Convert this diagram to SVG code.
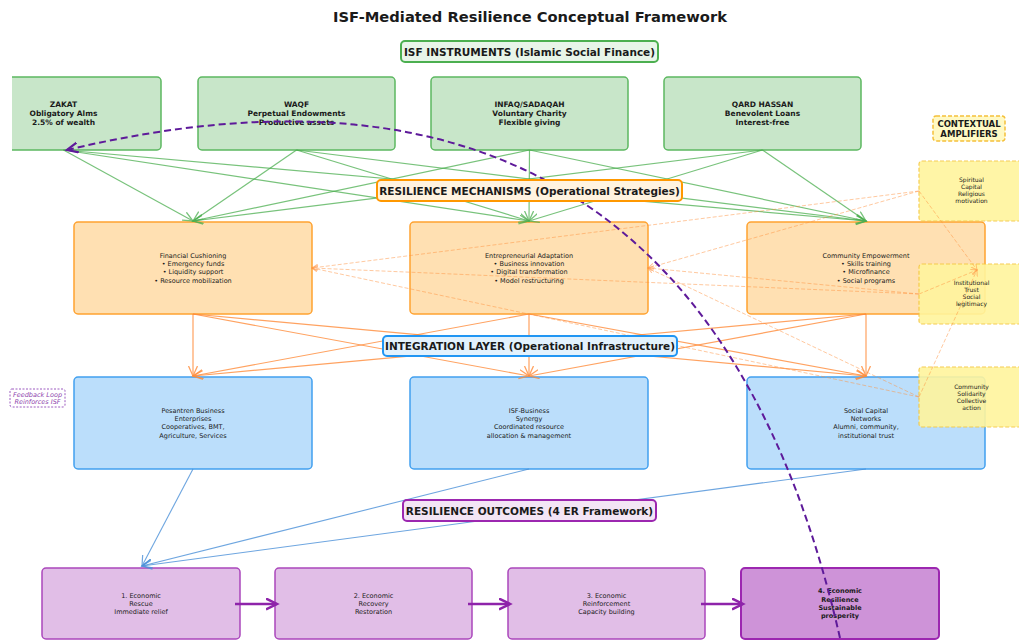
<svg xmlns="http://www.w3.org/2000/svg" width="1019" height="641" viewBox="0 0 1019 641">
<style>
text{font-family:"DejaVu Sans","Liberation Sans",sans-serif;fill:#1a1a1a;text-anchor:middle}
.title{font-size:14.7px;font-weight:bold}
.hdr{font-size:10.5px;font-weight:bold}
.inst{font-size:7.5px;font-weight:bold}
.body{font-size:6.5px}
.amp{font-size:6px}
.ibox{fill:#c8e6c9;stroke:#5cb860;stroke-width:1.5}
.mbox{fill:#ffe0b2;stroke:#ffa230;stroke-width:1.5}
.gbox{fill:#bbdefb;stroke:#42a0ef;stroke-width:1.5}
.obox{fill:#e1bee7;stroke:#ab47bc;stroke-width:1.5}
.obox4{fill:#ce93d8;stroke:#9c27b0;stroke-width:2}
.abox{fill:#fff59d;stroke:#f5c842;stroke-width:1.2;stroke-dasharray:4 2;opacity:.9}
.g{stroke:#4caf50;stroke-width:1.2;opacity:.75;fill:none;marker-end:url(#mg)}
.o{stroke:#ff8c3a;stroke-width:1.2;opacity:.8;fill:none;marker-end:url(#mo)}
.b{stroke:#4a90d9;stroke-width:1.1;opacity:.8;fill:none;marker-end:url(#mb)}
.p{stroke:#8e24aa;stroke-width:2.5;fill:none;marker-end:url(#mp)}
.a{stroke:#ff9340;stroke-width:.9;opacity:.55;stroke-dasharray:4 2;fill:none;marker-end:url(#ma)}
.fb{stroke:#5e1a9a;stroke-width:2;stroke-dasharray:7 4;fill:none;marker-end:url(#mf)}
</style>
<defs>
<marker id="mg" markerUnits="userSpaceOnUse" markerWidth="12" markerHeight="12" refX="10" refY="5" orient="auto"><path d="M0,0.5 L10,5 L0,9.5" fill="none" stroke="#4caf50" stroke-width="1.3"/></marker>
<marker id="mo" markerUnits="userSpaceOnUse" markerWidth="12" markerHeight="12" refX="10" refY="5" orient="auto"><path d="M0,0.5 L10,5 L0,9.5" fill="none" stroke="#ff8c3a" stroke-width="1.3"/></marker>
<marker id="mb" markerUnits="userSpaceOnUse" markerWidth="12" markerHeight="12" refX="10" refY="5" orient="auto"><path d="M0,0.5 L10,5 L0,9.5" fill="none" stroke="#4a90d9" stroke-width="1.2"/></marker>
<marker id="mp" markerUnits="userSpaceOnUse" markerWidth="14" markerHeight="14" refX="11" refY="6" orient="auto"><path d="M0,0.5 L11,6 L0,11.5" fill="none" stroke="#8e24aa" stroke-width="2.5"/></marker>
<marker id="ma" markerUnits="userSpaceOnUse" markerWidth="8" markerHeight="8" refX="6" refY="3" orient="auto"><path d="M0,0 L6,3 L0,6" fill="none" stroke="#ff9340" stroke-width="1"/></marker>
<marker id="mf" markerUnits="userSpaceOnUse" markerWidth="14" markerHeight="14" refX="11" refY="6" orient="auto"><path d="M0,1 L11,6 L0,11" fill="none" stroke="#5e1a9a" stroke-width="2.2"/></marker>
<clipPath id="clipL"><rect x="12" y="0" width="1007" height="641"/></clipPath>
</defs>
<rect width="1019" height="641" fill="#ffffff"/>
<text class="title" x="530" y="22">ISF-Mediated Resilience Conceptual Framework</text>

<g id="zakat"><rect class="ibox" x="-35" y="77" width="196" height="73" rx="4" clip-path="url(#clipL)"/>
<text class="inst" x="63.5" y="106.6">ZAKAT</text><text class="inst" x="63.5" y="115.6">Obligatory Alms</text><text class="inst" x="63.5" y="124.6">2.5% of wealth</text></g>
<g id="waqf"><rect class="ibox" x="198" y="77" width="197" height="73" rx="4"/>
<text class="inst" x="296.5" y="106.6">WAQF</text><text class="inst" x="296.5" y="115.6">Perpetual Endowments</text><text class="inst" x="296.5" y="124.6">Productive assets</text></g>
<g id="infaq"><rect class="ibox" x="431" y="77" width="197" height="73" rx="4"/>
<text class="inst" x="529.5" y="106.6">INFAQ/SADAQAH</text><text class="inst" x="529.5" y="115.6">Voluntary Charity</text><text class="inst" x="529.5" y="124.6">Flexible giving</text></g>
<g id="qard"><rect class="ibox" x="664" y="77" width="197" height="73" rx="4"/>
<text class="inst" x="762.5" y="106.6">QARD HASSAN</text><text class="inst" x="762.5" y="115.6">Benevolent Loans</text><text class="inst" x="762.5" y="124.6">Interest-free</text></g>

<g id="financial"><rect class="mbox" x="74" y="222" width="238" height="92" rx="4"/>
<text class="body" x="193" y="258">Financial Cushioning</text><text class="body" x="193" y="266.3">• Emergency funds</text><text class="body" x="193" y="274.4">• Liquidity support</text><text class="body" x="193" y="282.5">• Resource mobilization</text></g>
<g id="entrepreneurial"><rect class="mbox" x="410" y="222" width="238" height="92" rx="4"/>
<text class="body" x="529" y="258">Entrepreneurial Adaptation</text><text class="body" x="529" y="266.3">• Business innovation</text><text class="body" x="529" y="274.4">• Digital transformation</text><text class="body" x="529" y="282.5">• Model restructuring</text></g>
<g id="community"><rect class="mbox" x="747" y="222" width="238" height="92" rx="4"/>
<text class="body" x="866" y="258">Community Empowerment</text><text class="body" x="866" y="266.3">• Skills training</text><text class="body" x="866" y="274.4">• Microfinance</text><text class="body" x="866" y="282.5">• Social programs</text></g>

<g id="pesantren"><rect class="gbox" x="74" y="377" width="238" height="92" rx="4"/>
<text class="body" x="193" y="413">Pesantren Business</text><text class="body" x="193" y="421.3">Enterprises</text><text class="body" x="193" y="429.4">Cooperatives, BMT,</text><text class="body" x="193" y="437.5">Agriculture, Services</text></g>
<g id="synergy"><rect class="gbox" x="410" y="377" width="238" height="92" rx="4"/>
<text class="body" x="529" y="413">ISF-Business</text><text class="body" x="529" y="421.3">Synergy</text><text class="body" x="529" y="429.4">Coordinated resource</text><text class="body" x="529" y="437.5">allocation &amp; management</text></g>
<g id="social"><rect class="gbox" x="747" y="377" width="238" height="92" rx="4"/>
<text class="body" x="866" y="413">Social Capital</text><text class="body" x="866" y="421.3">Networks</text><text class="body" x="866" y="429.4">Alumni, community,</text><text class="body" x="866" y="437.5">institutional trust</text></g>

<g id="rescue"><rect class="obox" x="42" y="568" width="198" height="71" rx="4"/>
<text class="body" x="141" y="597.6">1. Economic</text><text class="body" x="141" y="606">Rescue</text><text class="body" x="141" y="614">Immediate relief</text></g>
<g id="recovery"><rect class="obox" x="275" y="568" width="197" height="71" rx="4"/>
<text class="body" x="373.5" y="597.6">2. Economic</text><text class="body" x="373.5" y="606">Recovery</text><text class="body" x="373.5" y="614">Restoration</text></g>
<g id="reinforcement"><rect class="obox" x="508" y="568" width="197" height="71" rx="4"/>
<text class="body" x="606.5" y="597.6">3. Economic</text><text class="body" x="606.5" y="606">Reinforcement</text><text class="body" x="606.5" y="614">Capacity building</text></g>
<g id="resilience"><rect class="obox4" x="741" y="568" width="198" height="71" rx="4"/>
<text class="body" font-weight="bold" x="840" y="593.3">4. Economic</text><text class="body" font-weight="bold" x="840" y="602">Resilience</text><text class="body" font-weight="bold" x="840" y="610">Sustainable</text><text class="body" font-weight="bold" x="840" y="618">prosperity</text></g>

<g id="spiritual"><rect class="abox" x="919" y="161" width="105" height="60" rx="3"/>
<text class="amp" x="971.5" y="182">Spiritual</text><text class="amp" x="971.5" y="189">Capital</text><text class="amp" x="971.5" y="196">Religious</text><text class="amp" x="971.5" y="203">motivation</text></g>
<g id="trust"><rect class="abox" x="919" y="264" width="105" height="60" rx="3"/>
<text class="amp" x="971.5" y="285">Institutional</text><text class="amp" x="971.5" y="292">Trust</text><text class="amp" x="971.5" y="299">Social</text><text class="amp" x="971.5" y="306">legitimacy</text></g>
<g id="solidarity"><rect class="abox" x="919" y="367" width="105" height="60" rx="3"/>
<text class="amp" x="971.5" y="389">Community</text><text class="amp" x="971.5" y="396">Solidarity</text><text class="amp" x="971.5" y="403">Collective</text><text class="amp" x="971.5" y="410">action</text></g>

<g id="connectors">
<path class="g" d="M63.5,150 L193,221"/><path class="g" d="M63.5,150 L529,221"/><path class="g" d="M63.5,150 L866,221"/>
<path class="g" d="M296.5,150 L193,221"/><path class="g" d="M296.5,150 L529,221"/><path class="g" d="M296.5,150 L866,221"/>
<path class="g" d="M529.5,150 L193,221"/><path class="g" d="M529.5,150 L529,221"/><path class="g" d="M529.5,150 L866,221"/>
<path class="g" d="M762.5,150 L193,221"/><path class="g" d="M762.5,150 L529,221"/><path class="g" d="M762.5,150 L866,221"/>
<path class="o" d="M193,314 L193,376"/><path class="o" d="M193,314 L529,376"/><path class="o" d="M193,314 L866,376"/>
<path class="o" d="M529,314 L193,376"/><path class="o" d="M529,314 L529,376"/><path class="o" d="M529,314 L866,376"/>
<path class="o" d="M866,314 L193,376"/><path class="o" d="M866,314 L529,376"/><path class="o" d="M866,314 L866,376"/>
<path class="b" d="M193,469 L142,566"/><path class="b" d="M529,469 L142,566"/><path class="b" d="M866,469 L142,566"/>
<path class="p" d="M235,604 L277,604"/><path class="p" d="M468,604 L510,604"/><path class="p" d="M701,604 L743,604"/>
<path class="a" d="M919,191 L312,268"/><path class="a" d="M919,191 L648,268"/><path class="a" d="M919,191 L977,270"/>
<path class="a" d="M919,294 L312,268"/><path class="a" d="M919,294 L648,268"/><path class="a" d="M919,294 L977,270"/>
<path class="a" d="M919,397 L312,268"/><path class="a" d="M919,397 L648,268"/><path class="a" d="M919,397 L977,270"/>
<path class="fb" d="M840,638 Q695,0 67,150"/>
</g>

<g id="hdr-instruments"><rect x="401" y="41" width="257" height="21" rx="4" fill="#e8f5e9" stroke="#4caf50" stroke-width="2"/><text class="hdr" x="529.5" y="55.5">ISF INSTRUMENTS (Islamic Social Finance)</text></g>
<g id="hdr-mechanisms"><rect x="377" y="180" width="305" height="21" rx="4" fill="#fff3e0" stroke="#ff9800" stroke-width="2"/><text class="hdr" x="529.5" y="194.5">RESILIENCE MECHANISMS (Operational Strategies)</text></g>
<g id="hdr-integration"><rect x="383" y="336" width="294" height="20" rx="4" fill="#e3f2fd" stroke="#2196f3" stroke-width="2"/><text class="hdr" x="530" y="350">INTEGRATION LAYER (Operational Infrastructure)</text></g>
<g id="hdr-outcomes"><rect x="403" y="500" width="253" height="21" rx="4" fill="#f3e5f5" stroke="#9c27b0" stroke-width="2"/><text class="hdr" x="529.5" y="514.5">RESILIENCE OUTCOMES (4 ER Framework)</text></g>
<g id="hdr-amplifiers"><rect x="933" y="116" width="72" height="25" rx="3" fill="#fff9c4" stroke="#f5c03a" stroke-width="1.5" stroke-dasharray="4 2"/><text x="969" y="126.5" font-size="8.5" font-weight="bold">CONTEXTUAL</text><text x="969" y="136.5" font-size="8.5" font-weight="bold">AMPLIFIERS</text></g>
<g id="feedback-label"><rect x="10" y="389" width="55" height="18" rx="2" fill="#ffffff" stroke="#9c5bc0" stroke-width="1" stroke-dasharray="2 1.5"/><text x="37.5" y="396.5" font-size="6.5" font-style="italic" style="fill:#8e44ad">Feedback Loop</text><text x="37.5" y="404" font-size="6.5" font-style="italic" style="fill:#8e44ad">Reinforces ISF</text></g>
</svg>
